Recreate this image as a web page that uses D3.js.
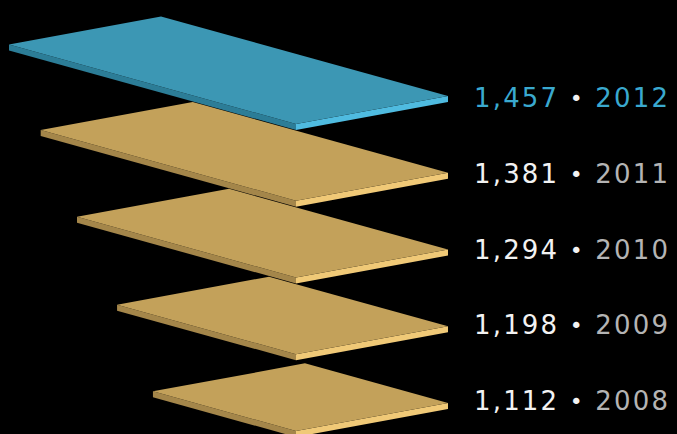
<!DOCTYPE html>
<html>
<head>
<meta charset="utf-8">
<script src="https://cdn.jsdelivr.net/npm/d3@7"></script>
<style>
  html, body { margin: 0; padding: 0; background: #000; }
  svg { display: block; }
</style>
</head>
<body>
<script>
// Yearly totals, newest first
const years = [2012, 2011, 2010, 2009, 2008];
const values = [1457, 1381, 1294, 1198, 1112];
const highlightYear = 2012;

const width = 677, height = 434;

const svg = d3.select("body").append("svg")
  .attr("width", width)
  .attr("height", height);

svg.append("rect").attr("width", width).attr("height", height).attr("fill", "#000");

// vertical placement of each slab's right corner
const yCorner = d3.scaleLinear().domain([2012, 2008]).range([96, 403]);
// label baseline per year
const yLabel = d3.scaleLinear().domain([2012, 2008]).range([107, 410]);
// slab depth (horizontal extent of the long side) from the value
const depth = d3.scaleLinear().domain([769, 1457]).range([0, 287]);

const rightX = 448;
const shortSide = [152, -28];   // front corner -> right corner
const slope = 0.277;            // rise of the long side per px
const thick = 6;

const palette = {
  blue: { top: "#3c97b4", right: "#4fbbe0", left: "#2c7d97" },
  gold: { top: "#c3a15a", right: "#f0c977", left: "#a4864a" }
};

const slabs = years.map((y, i) => {
  const R = [rightX, yCorner(y)];
  const F = [R[0] - shortSide[0], R[1] - shortSide[1]];
  const d = depth(values[i]);
  const L = [F[0] - d, F[1] - d * slope];
  const T = [L[0] + shortSide[0], L[1] + shortSide[1]];
  return { year: y, value: values[i], R, F, L, T,
           c: y === highlightYear ? palette.blue : palette.gold };
});

const pts = arr => arr.map(p => p.join(",")).join(" ");
const down = p => [p[0], p[1] + thick];

// draw lowest slab first so upper slabs overlap it
const g = svg.append("g").attr("class", "slabs");
const slab = g.selectAll("g.slab")
  .data(slabs.slice().reverse())
  .join("g")
  .attr("class", "slab");

slab.append("polygon")
  .attr("points", d => pts([d.L, d.F, down(d.F), down(d.L)]))
  .attr("fill", d => d.c.left);
slab.append("polygon")
  .attr("points", d => pts([d.F, d.R, down(d.R), down(d.F)]))
  .attr("fill", d => d.c.right);
slab.append("polygon")
  .attr("points", d => pts([d.L, d.T, d.R, d.F]))
  .attr("fill", d => d.c.top);

// labels: value • year
const fmt = d3.format(",");
const labels = svg.append("g").attr("class", "labels")
  .selectAll("text")
  .data(slabs)
  .join("text")
  .attr("x", 474)
  .attr("y", d => yLabel(d.year))
  .attr("font-family", "'DejaVu Sans', sans-serif")
  .attr("font-size", 26)
  .attr("textLength", 194)
  .attr("lengthAdjust", "spacing");

labels.append("tspan")
  .attr("fill", d => d.year === highlightYear ? "#3aa9cf" : "#f2f2f2")
  .text(d => fmt(d.value) + " ");
labels.append("tspan")
  .attr("fill", "#f2f2f2")
  .attr("font-size", 22)
  .attr("dy", -1)
  .text("\u2022");
labels.append("tspan")
  .attr("fill", d => d.year === highlightYear ? "#3aa9cf" : "#b4b4b4")
  .attr("dy", 1)
  .text(d => " " + d.year);
</script>
</body>
</html>
